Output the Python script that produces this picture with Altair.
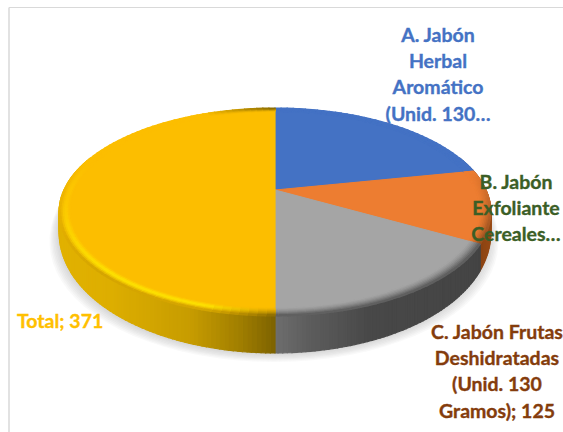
import math
import altair as alt

# Slice values, clockwise from twelve o'clock
names = ["A", "B", "C", "Total"]
values = [162, 84, 125, 371]
top_colors = ["#4472C4", "#ED7D31", "#A5A5A5", "#FCBE00"]

label_text = [
    "A. Jabón\nHerbal\nAromático\n(Unid. 130…",
    "B. Jabón\nExfoliante\nCereales…",
    f"C. Jabón Frutas\nDeshidratadas\n(Unid. 130\nGramos); {values[2]}",
    f"Total; {values[3]}",
]
label_colors = ["#4472C4", "#3B5E26", "#843C0C", "#FFC000"]
label_x = [438, 516, 497, 17]
label_y = [27, 173.5, 324, 313]
label_align = ["center", "center", "center", "left"]

# Tilted-disc projection of the unit circle
CX, CY, RX, RY, K = 275.0, 190.0, 211.0, 99.3, -0.2115
INNER = 0.95


def project(theta, s=1.0):
    u, v = s * math.sin(theta), -s * math.cos(theta)
    w = 1 + K * v
    return CX + RX * u / w, CY + RY * v / w


def wall_depth(theta):
    return max(2.0, 16 + 21 * -math.cos(theta))


def rgb(h):
    return [int(h[i:i + 2], 16) for i in (1, 3, 5)]


def mix(a, b, t):
    t = min(1.0, max(0.0, t))
    return "#" + "".join(f"{round(x + (y - x) * t):02x}" for x, y in zip(rgb(a), rgb(b)))


def ramp(stops, x):
    for (x0, c0), (x1, c1) in zip(stops, stops[1:]):
        if x <= x1:
            return mix(c0, c1, (x - x0) / (x1 - x0))
    return stops[-1][1]


def feature(ring, fill, alpha=1.0):
    ring = [[round(x, 2), round(y, 2)] for x, y in ring]
    ring.append(ring[0])
    return {
        "type": "Feature",
        "geometry": {"type": "Polygon", "coordinates": [ring]},
        "properties": {"fill": fill, "alpha": alpha},
    }


total = sum(values)
edges = [0.0]
for val in values:
    edges.append(edges[-1] + val / total * 2 * math.pi)

wall_ramps = [
    [(0, "#2F5597"), (600, "#2F5597")],
    [(0, "#843C0C"), (470, "#7E3A0E"), (492, "#9A4C16")],
    [(0, "#6E6E6E"), (275, "#6E6E6E"), (310, "#5C5C5C"), (370, "#484848"), (600, "#404040")],
    [(0, "#E6B500"), (110, "#DDAE00"), (190, "#C79C00"), (240, "#A07E00"), (275, "#7D6200")],
]
rim_dark = ["#3E68B4", "#8C4A1E", "#585858", "#7D6200"]

body = []
shadow = []

# Soft drop shadow under the disc
for step in range(8):
    grow = 1.04 - step * 0.006
    pts = []
    for d in range(60, 301, 4):
        th = math.radians(d)
        x, y = project(th)
        pts.append((CX + (x - CX) * grow - 1, y + wall_depth(th) + 9 - step * 1.2))
    pts.append((CX, 200))
    shadow.append(feature(pts, "#8A8A96", 0.055))

# Outer wall, one thin quad per degree of angle
STEP = 1
for i in range(4):
    start, stop = math.degrees(edges[i]), math.degrees(edges[i + 1])
    d = max(start, 70.0)
    while d < min(stop, 290.0):
        e = min(d + STEP, stop)
        a, b = math.radians(d), math.radians(e)
        p, q = project(a), project(b)
        quad = [p, q, (q[0], q[1] + wall_depth(b)), (p[0], p[1] + wall_depth(a))]
        fill = ramp(wall_ramps[i], (p[0] + q[0]) / 2)
        body.append(feature(quad, fill))
        d = e

# Flat top of each slice
for i in range(4):
    pts = [(CX, CY)]
    d = math.degrees(edges[i])
    stop = math.degrees(edges[i + 1])
    while d < stop:
        pts.append(project(math.radians(d), INNER))
        d += 1
    pts.append(project(edges[i + 1], INNER))
    body.append(feature(pts, top_colors[i]))

# Bevelled rim between the flat top and the wall
RINGS = 7
for i in range(4):
    start, stop = math.degrees(edges[i]), math.degrees(edges[i + 1])
    d = start
    while d < stop:
        e = min(d + 2, stop)
        a, b = math.radians(d), math.radians(e)
        mid = (a + b) / 2
        v = -math.cos(mid)
        front = min(1.0, max(0.0, (v + 0.2) / 0.7))
        for r in range(RINGS):
            s0 = INNER + (1 - INNER) * r / RINGS
            s1 = INNER + (1 - INNER) * (r + 1) / RINGS
            t = (r + 0.5) / RINGS
            if i == 3:
                x_pos = project(mid)[0]
                strength = 0.25 + 0.7 * min(1.0, max(0.0, (v - 0.1) / 0.6))
                strength *= min(1.0, max(0.0, (v + 0.3) / 0.3))
                strength *= min(1.0, max(0.0, (265 - x_pos) / 60))
                fill = mix(top_colors[i], "#FFE600", math.sin(math.pi * t) ** 2 * strength)
                fade = min(1.0, max(0.0, (x_pos - 205) / 70))
                fill = mix(fill, "#C79C00", (1 - fade) * t ** 4 * min(1.0, max(0.0, v + 0.3)))
                fill = mix(fill, rim_dark[i], fade * t ** 1.4)
            else:
                fill = mix(top_colors[i], rim_dark[i], front * t ** 1.5)
            ring = [project(a, s0), project(b, s0), project(b, s1), project(a, s1)]
            body.append(feature(ring, fill))
        d = e

canvas = dict(type="identity", scale=1, translate=[0, 0])

shadow_layer = (
    alt.Chart(alt.Data(values=shadow))
    .mark_geoshape(strokeWidth=0)
    .encode(
        color=alt.Color("properties.fill:N", scale=None),
        opacity=alt.Opacity("properties.alpha:Q", scale=None),
    )
    .project(**canvas)
)

body_layer = (
    alt.Chart(alt.Data(values=body))
    .mark_geoshape(strokeWidth=1.2)
    .encode(
        color=alt.Color("properties.fill:N", scale=None),
        stroke=alt.Stroke("properties.fill:N", scale=None),
    )
    .project(**canvas)
)

frame_top = alt.Chart(alt.Data(values=[{}])).mark_rule(color="#D9D9D9", strokeWidth=1).encode(
    x=alt.value(9), x2=alt.value(563), y=alt.value(7.5)
)
frame_left = alt.Chart(alt.Data(values=[{}])).mark_rule(color="#D9D9D9", strokeWidth=1.5).encode(
    x=alt.value(9), y=alt.value(7.5), y2=alt.value(432)
)

label_layers = []
for text, color, lx, ly, align in zip(label_text, label_colors, label_x, label_y, label_align):
    label_layers.append(
        alt.Chart(alt.Data(values=[{"label": text}]))
        .mark_text(
            font="Lato",
            fontWeight="bold",
            fontSize=19.5,
            lineBreak="\n",
            lineHeight=26.2,
            align=align,
            baseline="top",
            color=color,
            stroke=color,
            strokeWidth=0.35,
        )
        .encode(text="label:N", x=alt.value(lx), y=alt.value(ly))
    )

chart = alt.layer(shadow_layer, body_layer, frame_top, frame_left, *label_layers).properties(
    width=563,
    height=432,
    padding=0,
    background="white",
    autosize=alt.AutoSizeParams(type="none"),
).configure_view(stroke=None)

chart.save("out.html", embed_options={"renderer": "svg", "actions": False})
